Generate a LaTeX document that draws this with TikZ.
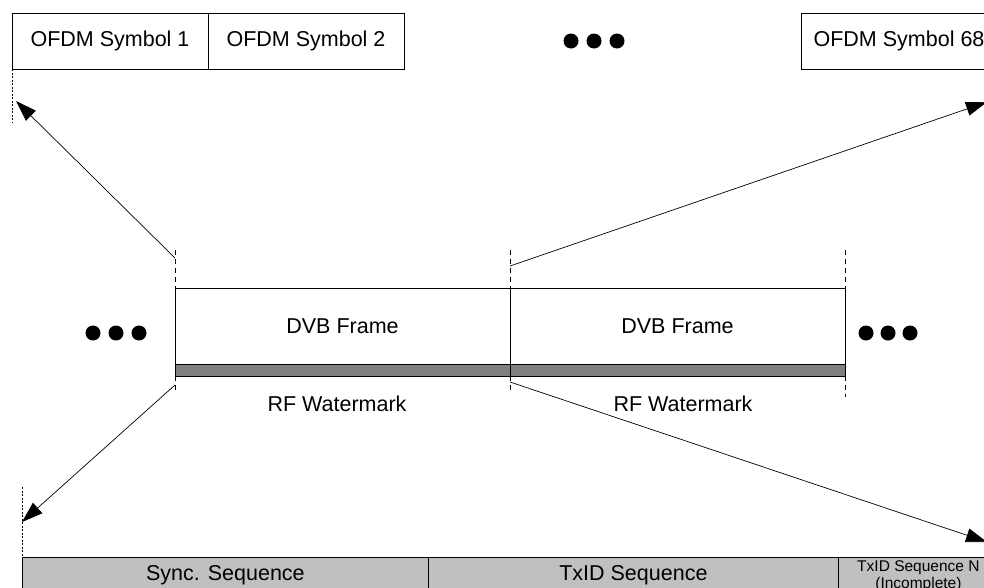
\documentclass[tikz,border=0pt]{standalone}
\usepackage{fontspec}
\setmainfont{Liberation Sans}
\usetikzlibrary{arrows.meta}

\begin{document}
\begin{tikzpicture}[x=1pt,y=-1pt,
  symbox/.style={draw,line width=0.8pt,minimum width=196pt,minimum height=56pt,inner sep=0pt,font=\fontsize{21.5}{25}\selectfont},
  framebox/.style={draw,line width=0.8pt,minimum width=335pt,minimum height=76pt,inner sep=0pt,font=\fontsize{21.5}{25}\selectfont},
  wmband/.style={draw,line width=0.8pt,fill=wmgray,minimum width=335pt,minimum height=12pt,inner sep=0pt},
  seqbox/.style={draw,line width=0.8pt,fill=seqgray,anchor=north west,inner xsep=0pt,inner ysep=2pt},
  seqtext/.style={text height=21pt,text depth=40pt,font=\fontsize{21.5}{25}\selectfont},
  guide/.style={line width=0.6pt,dash pattern=on 5pt off 4pt},
  fineguide/.style={line width=0.6pt,dash pattern=on 2pt off 1.5pt},
  zoomarrow/.style={line width=0.7pt,-{Triangle[length=21pt,width=14pt]}}]

\definecolor{wmgray}{HTML}{808080}
\definecolor{seqgray}{HTML}{C0C0C0}
\useasboundingbox (0,0) rectangle (984,587);
\clip (0,0) rectangle (984,587);

\node[symbox] (sym1) at (110,41) {OFDM Symbol 1};
\node[symbox] (sym2) at (306,41) {OFDM Symbol 2};
\node[symbox] (sym68) at (899,41) {OFDM Symbol 68};
\foreach \x in {571,594,617} \fill (\x,41) circle (7.5pt);

\node[framebox] (dvb1) at (342.5,326) {DVB Frame};
\node[framebox] (dvb2) at (677.5,326) {DVB Frame};
\node[wmband] (wm1) at (342.5,370) {};
\node[wmband] (wm2) at (677.5,370) {};
\node[font=\fontsize{21.5}{25}\selectfont] (rf1) at (337,404) {RF Watermark};
\node[font=\fontsize{21.5}{25}\selectfont] (rf2) at (683,404) {RF Watermark};
\foreach \x in {93,116,139} \fill (\x,333) circle (7.5pt);
\foreach \x in {866,888,910} \fill (\x,333) circle (7.5pt);

\draw[guide] (175,250) -- (175,393);
\draw[guide] (510,250) -- (510,390);
\draw[guide] (845,250) -- (845,397);
\draw[fineguide] (12,69) -- (12,123);
\draw[fineguide] (22,487) -- (22,557);

\node[seqbox,seqtext,minimum width=406pt] (sync) at (22,557) {Sync. Sequence};
\node[seqbox,seqtext,minimum width=410pt] (txid) at (428,557) {TxID Sequence};
\node[seqbox,minimum width=160pt,align=center,font=\fontsize{15.5}{17}\selectfont] (txidn) at (838,557)
  {\rule{0pt}{12.5pt}TxID Sequence N\\(Incomplete)\rule[-35pt]{0pt}{35pt}};

\coordinate (a1s) at (175,258);
\coordinate (a1e) at (16,101);
\coordinate (a2s) at (510,266);
\coordinate (a2e) at (987,102);
\coordinate (a3s) at (510,382);
\coordinate (a3e) at (987,542);
\coordinate (a4s) at (175,385);
\coordinate (a4e) at (22,522);
\draw[zoomarrow] (a1s) -- (a1e);
\draw[zoomarrow] (a2s) -- (a2e);
\draw[zoomarrow] (a3s) -- (a3e);
\draw[zoomarrow] (a4s) -- (a4e);

\end{tikzpicture}
\end{document}
